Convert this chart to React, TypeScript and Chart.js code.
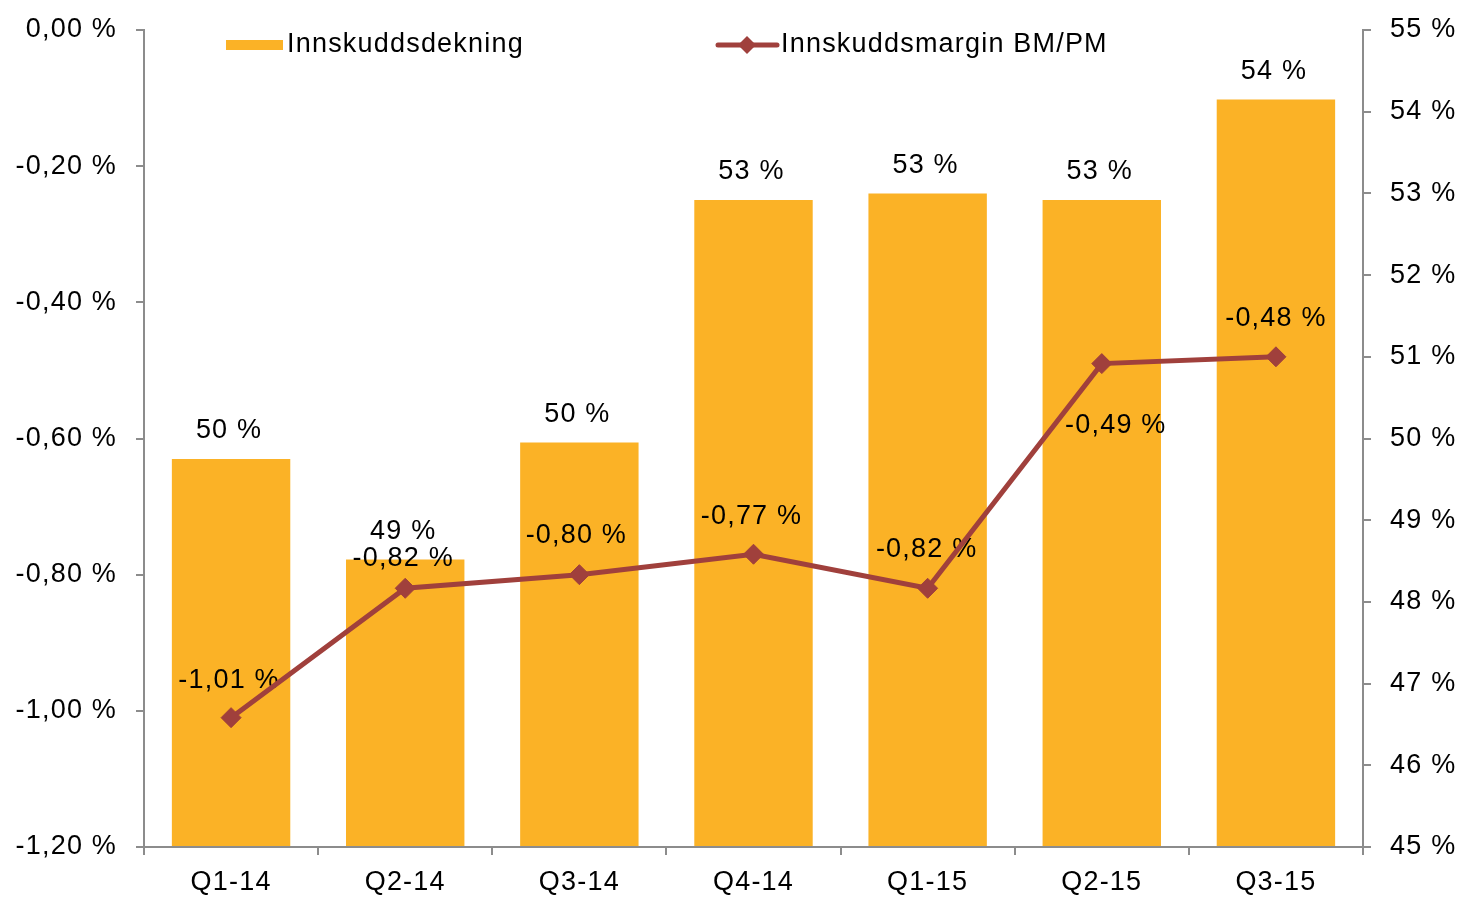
import React, { useEffect, useRef } from 'react';
import { Chart, registerables } from 'chart.js';

Chart.register(...registerables);

const categories = ['Q1-14', 'Q2-14', 'Q3-14', 'Q4-14', 'Q1-15', 'Q2-15', 'Q3-15'];
const coverageLabel = 'Innskuddsdekning';
const marginLabel = 'Innskuddsmargin BM/PM';
// Innskuddsdekning (right axis, %)
const coverageValues = [49.75, 48.52, 49.95, 52.92, 53.0, 52.92, 54.15];
// Innskuddsmargin BM/PM (left axis, %)
const marginValues = [-1.01, -0.82, -0.8, -0.77, -0.82, -0.49, -0.48];

const BAR_COLOR = '#FBB226';
const LINE_COLOR = '#A0403C';
const AXIS_COLOR = '#8C8C8C';
const FONT_FAMILY = '"Liberation Sans", Arial, sans-serif';
const FONT_SIZE = 27;
const FONT = `${FONT_SIZE}px ${FONT_FAMILY}`;
const LETTER_SPACING = '1.2px';

// vertical offsets of the line value labels relative to their points
const lineLabelDy = [-37, -30, -39, -38, -39, 62, -38];
const lineLabelDx = [-2, -2, -3, -2, -1, 14, 0];

const fmtPct = (v: number, digits: number) => {
  const s = Math.abs(v) < 1e-9 ? (0).toFixed(digits) : v.toFixed(digits);
  return s.replace('.', ',') + ' %';
};

const letterSpacingPlugin = {
  id: 'letterSpacing',
  beforeInit(chart: any) {
    try {
      chart.ctx.letterSpacing = LETTER_SPACING;
    } catch (e) {}
  },
  beforeDraw(chart: any) {
    try {
      chart.ctx.letterSpacing = LETTER_SPACING;
    } catch (e) {}
  },
};

const valueLabelPlugin = {
  id: 'valueLabels',
  afterDatasetDraw(chart: any, args: any) {
    if (args.index !== 0) return;
    const ctx = chart.ctx;
    ctx.save();
    ctx.font = FONT;
    ctx.fillStyle = '#000';
    ctx.textAlign = 'center';
    ctx.textBaseline = 'middle';
    const barMeta = chart.getDatasetMeta(0);
    barMeta.data.forEach((el: any, i: number) => {
      const v = coverageValues[i];
      ctx.fillText(`${Math.round(v)} %`, el.x - 2, el.y - 28);
    });
    const lineMeta = chart.getDatasetMeta(1);
    lineMeta.data.forEach((el: any, i: number) => {
      ctx.fillText(fmtPct(marginValues[i], 2), el.x + lineLabelDx[i], el.y + lineLabelDy[i]);
    });
    ctx.restore();
  },
};

const legendPlugin = {
  id: 'customLegend',
  afterDraw(chart: any) {
    const ctx = chart.ctx;
    ctx.save();
    ctx.font = FONT;
    ctx.fillStyle = '#000';
    ctx.textAlign = 'left';
    ctx.textBaseline = 'middle';
    const y = 45;
    // bar entry
    ctx.fillStyle = BAR_COLOR;
    ctx.fillRect(226, y - 5, 57, 10);
    ctx.fillStyle = '#000';
    ctx.fillText(coverageLabel, 287, y);
    // line entry
    ctx.strokeStyle = LINE_COLOR;
    ctx.lineWidth = 5;
    ctx.lineCap = 'round';
    ctx.beginPath();
    ctx.moveTo(718, y);
    ctx.lineTo(777, y);
    ctx.stroke();
    ctx.fillStyle = LINE_COLOR;
    ctx.beginPath();
    ctx.moveTo(747, y - 9);
    ctx.lineTo(756, y);
    ctx.lineTo(747, y + 9);
    ctx.lineTo(738, y);
    ctx.closePath();
    ctx.fill();
    ctx.fillStyle = '#000';
    ctx.fillText(marginLabel, 781, y);
    ctx.restore();
  },
};

export default function App() {
  const canvasRef = useRef<HTMLCanvasElement | null>(null);

  useEffect(() => {
    if (!canvasRef.current) return;
    const chart = new Chart(canvasRef.current, {
      type: 'bar',
      data: {
        labels: categories,
        datasets: [
          {
            type: 'bar',
            label: coverageLabel,
            data: coverageValues,
            yAxisID: 'yRight',
            backgroundColor: BAR_COLOR,
            borderWidth: 0,
            base: 45,
            categoryPercentage: 1,
            barPercentage: 0.68,
            order: 1,
          } as any,
          {
            type: 'line',
            label: marginLabel,
            data: marginValues,
            yAxisID: 'yLeft',
            borderColor: LINE_COLOR,
            backgroundColor: LINE_COLOR,
            borderWidth: 5,
            pointStyle: 'rectRot',
            pointRadius: 10,
            pointBackgroundColor: LINE_COLOR,
            pointBorderColor: LINE_COLOR,
            pointBorderWidth: 1,
            tension: 0,
            order: 0,
          } as any,
        ],
      },
      options: {
        animation: false,
        responsive: false,
        maintainAspectRatio: false,
        events: [],
        layout: { padding: { top: 30, left: 0, right: 0, bottom: 0 } },
        plugins: {
          legend: { display: false },
          tooltip: { enabled: false },
          title: { display: false },
        },
        scales: {
          x: {
            offset: true,
            grid: {
              display: true,
              offset: true,
              drawOnChartArea: false,
              drawTicks: true,
              tickLength: 8,
              color: AXIS_COLOR,
              lineWidth: 2,
            },
            border: { display: true, color: AXIS_COLOR, width: 2 },
            ticks: {
              color: '#000',
              font: { family: FONT_FAMILY, size: FONT_SIZE },
              padding: 11,
              maxRotation: 0,
              autoSkip: false,
            },
            afterFit(scale: any) {
              scale.height = 50;
              scale.paddingLeft = 0;
              scale.paddingRight = 0;
            },
          },
          yLeft: {
            type: 'linear',
            position: 'left',
            min: -1.2,
            max: 0,
            grid: {
              display: true,
              drawOnChartArea: false,
              drawTicks: true,
              tickLength: 8,
              color: AXIS_COLOR,
              lineWidth: 2,
            },
            border: { display: true, color: AXIS_COLOR, width: 2 },
            ticks: {
              stepSize: 0.2,
              color: '#000',
              font: { family: FONT_FAMILY, size: FONT_SIZE },
              padding: 19,
              callback: (v: any) => fmtPct(Number(v), 2),
            },
            afterFit(scale: any) {
              scale.width = 144;
              scale.paddingTop = 0;
              scale.paddingBottom = 0;
            },
          },
          yRight: {
            type: 'linear',
            position: 'right',
            min: 45,
            max: 55,
            grid: {
              display: true,
              drawOnChartArea: false,
              drawTicks: true,
              tickLength: 8,
              color: AXIS_COLOR,
              lineWidth: 2,
            },
            border: { display: true, color: AXIS_COLOR, width: 2 },
            ticks: {
              stepSize: 1,
              color: '#000',
              font: { family: FONT_FAMILY, size: FONT_SIZE },
              padding: 19,
              callback: (v: any) => `${Math.round(Number(v))} %`,
            },
            afterFit(scale: any) {
              scale.width = 100;
              scale.paddingTop = 0;
              scale.paddingBottom = 0;
            },
          },
        },
      },
      plugins: [letterSpacingPlugin, valueLabelPlugin, legendPlugin],
    });
    return () => chart.destroy();
  }, []);

  return (
    <div style={{ position: 'fixed', left: 0, top: 0, width: 1463, height: 897, background: '#fff' }}>
      <canvas ref={canvasRef} width={1463} height={897} style={{ width: 1463, height: 897, display: 'block' }} />
    </div>
  );
}
